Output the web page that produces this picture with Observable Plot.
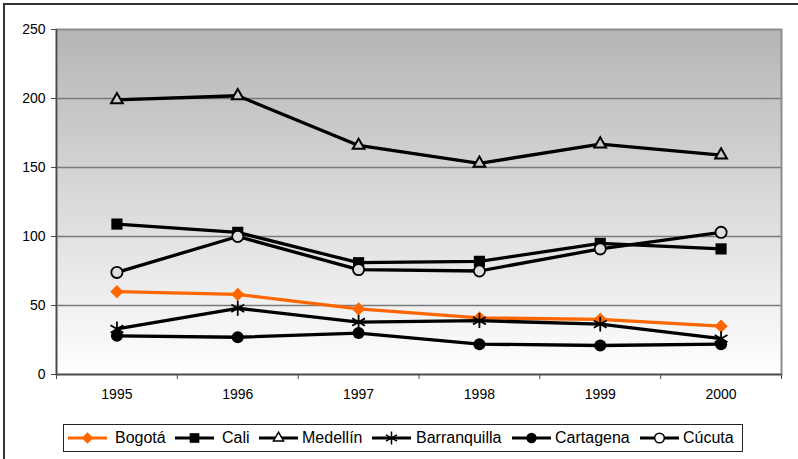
<!DOCTYPE html>
<html><head><meta charset="utf-8">
<script src="https://cdn.jsdelivr.net/npm/d3@7"></script>
<script src="https://cdn.jsdelivr.net/npm/@observablehq/plot@0.6"></script>
<style>
body{margin:0;background:#fff;font-family:Arial,"Liberation Sans",sans-serif;}
#wrap{position:relative;width:798px;height:459px;overflow:hidden;background:#fff;}
#border{position:absolute;left:3px;top:3px;width:900px;height:600px;border-left:2px solid #333;border-top:2px solid #333;}
#chart{position:absolute;left:0;top:0;}
#legend{position:absolute;left:63px;top:424px;width:678px;height:26px;border:1px solid #222;background:#fff;}
.sym{position:absolute;top:0;}
.lab{position:absolute;top:4px;font-size:16px;line-height:18px;color:#000;white-space:nowrap;}
</style></head>
<body>
<div id="wrap"><div id="border"></div><div id="chart"></div><div id="legend"></div></div>
<script>
const years = [1995, 1996, 1997, 1998, 1999, 2000];
const cities = ["Bogotá", "Cali", "Medellín", "Barranquilla", "Cartagena", "Cúcuta"];
const bogota = [60, 58, 47.5, 41, 40, 35];
const cali = [109, 103, 81, 82, 95, 91];
const medellin = [199, 202, 166, 153, 167, 159];
const barranquilla = [33, 48, 38, 39, 36.5, 26];
const cartagena = [28, 27, 30, 22, 21, 22];
const cucuta = [74, 100, 76, 75, 91, 103];
const yTicks = [0, 50, 100, 150, 200, 250];

const styles = [
  {vals: bogota, line: "#FF6600", symbol: d3.symbolDiamond2, r: 6, fill: "#FF6600", stroke: "none", sw: 0},
  {vals: cali, line: "#000", symbol: d3.symbolSquare, r: 6.3, fill: "#000", stroke: "none", sw: 0},
  {vals: medellin, line: "#000", symbol: d3.symbolTriangle2, r: 5.6, fill: "#c9c9c9", stroke: "#000", sw: 2},
  {vals: barranquilla, line: "#000", symbol: d3.symbolAsterisk, r: 7, fill: "none", stroke: "#000", sw: 1.8},
  {vals: cartagena, line: "#000", symbol: d3.symbolCircle, r: 6, fill: "#000", stroke: "none", sw: 0},
  {vals: cucuta, line: "#000", symbol: d3.symbolCircle, r: 5.6, fill: "#dedede", stroke: "#000", sw: 1.8}
];

const data = cities.flatMap((c, k) => years.map((yr, i) => ({city: c, year: yr, value: styles[k].vals[i]})));
const edges = [...years.map(y => y - 0.5), years[years.length - 1] + 0.5];

const seriesMarks = cities.flatMap((c, k) => {
  const s = styles[k];
  const d = data.filter(o => o.city === c);
  return [
    Plot.line(d, {x: "year", y: "value", stroke: s.line, strokeWidth: 3.3}),
    Plot.dot(d, {x: "year", y: "value", symbol: s.symbol, r: s.r, fill: s.fill, stroke: s.stroke, strokeWidth: s.sw})
  ];
});

const chart = Plot.plot({
  width: 798, height: 415,
  marginLeft: 56, marginRight: 17, marginTop: 29, marginBottom: 41,
  style: {fontFamily: "Arial, 'Liberation Sans', sans-serif", fontSize: "14px", color: "#000", background: "transparent", overflow: "visible"},
  x: {domain: [edges[0], edges[edges.length - 1]], label: null},
  y: {domain: [0, 250], label: null},
  marks: [
    Plot.frame({fill: "url(#bg)", stroke: null}),
    Plot.ruleY(yTicks.slice(1, -1), {stroke: "#7a7a7a", strokeWidth: 1.3}),
    Plot.frame({stroke: "#8c8c8c", strokeWidth: 2}),
    Plot.ruleY([0], {stroke: "#4a4a4a", strokeWidth: 1.5}),
    Plot.ruleX([edges[0]], {stroke: "#4a4a4a", strokeWidth: 1.5}),
    Plot.axisY(yTicks, {tickSize: 5, tickPadding: 6, stroke: "#4a4a4a", label: null, fontSize: 14}),
    Plot.axisX(edges, {tickSize: 5, tickFormat: () => "", stroke: "#4a4a4a", label: null}),
    Plot.axisX(years, {tickSize: 0, tickPadding: 15, tickFormat: d => String(d), label: null, fontSize: 14}),
    ...seriesMarks
  ]
});

const defs = d3.select(chart).insert("defs", ":first-child");
const grad = defs.append("linearGradient").attr("id", "bg").attr("x1", 0).attr("y1", 0).attr("x2", 0).attr("y2", 1);
grad.append("stop").attr("offset", "0%").attr("stop-color", "#b5b5b5");
grad.append("stop").attr("offset", "100%").attr("stop-color", "#ffffff");
document.getElementById("chart").appendChild(chart);

// legend
const lineStarts = [68, 175, 259, 372, 512, 640];
const textStarts = [115, 222, 302, 416, 555, 683];
const legend = document.getElementById("legend");
cities.forEach((c, k) => {
  const s = styles[k];
  const left = lineStarts[k] - 64;
  const svg = d3.create("svg").attr("class", "sym").attr("width", 40).attr("height", 26)
    .style("left", left + "px");
  svg.append("line").attr("x1", 0).attr("x2", 39).attr("y1", 13).attr("y2", 13)
    .attr("stroke", s.line).attr("stroke-width", 3);
  svg.append("path").attr("transform", "translate(19.5,13)")
    .attr("d", d3.symbol().type(s.symbol).size(Math.PI * s.r * s.r * 0.75)())
    .attr("fill", s.fill === "#c9c9c9" || s.fill === "#dedede" ? "#fff" : s.fill)
    .attr("stroke", s.stroke).attr("stroke-width", Math.min(s.sw, 1.5));
  legend.appendChild(svg.node());
  const lab = document.createElement("div");
  lab.className = "lab";
  lab.style.left = (textStarts[k] - 64) + "px";
  lab.textContent = c;
  legend.appendChild(lab);
});
</script>
</body></html>
